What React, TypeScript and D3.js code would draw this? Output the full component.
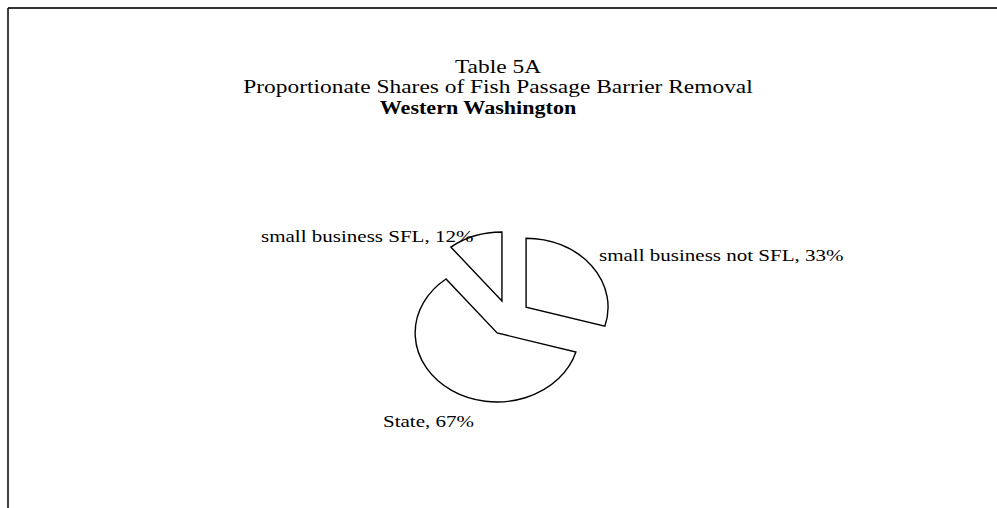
import React from "react";
import * as d3 from "d3";

const categories = ["small business not SFL", "State", "small business SFL"];
const values = [33, 67, 12];
const valueLabels = ["33%", "67%", "12%"];
const titleLines = ["Table 5A", "Proportionate Shares of Fish Passage Barrier Removal"];
const subtitle = "Western Washington";

const W = 997;
const H = 508;
const SX = 1.188; // horizontal stretch of the whole chart
const CX = 509;
const CY = 318;
const R = 69;
const EXPLODE = 18;
const FONT = "'Liberation Serif', 'Times New Roman', serif";

const labelPos = [
  { x: 599, y: 261 },
  { x: 383, y: 427 },
  { x: 261, y: 242 },
];

export default function App() {
  const pie = d3
    .pie<number>()
    .sort(null)
    .value((d) => d)
    .startAngle(0)
    .endAngle(2 * Math.PI);
  const arcs = pie(values);
  const arc = d3.arc<d3.PieArcDatum<number>>().innerRadius(0).outerRadius(R);

  return (
    <svg
      width={W}
      height={H}
      style={{ position: "absolute", left: 0, top: 0, background: "#fff" }}
    >
      <rect x={0} y={0} width={W} height={H} fill="#fff" />
      <line x1={8} y1={8} x2={W} y2={8} stroke="#333" strokeWidth={2} />
      <line x1={8} y1={8} x2={8} y2={H} stroke="#000" strokeWidth={1.5} />

      <g fontFamily={FONT} fill="#000">
        <text
          transform={`translate(498,73) scale(${SX},1)`}
          textAnchor="middle"
          fontSize={19.7}
        >
          {titleLines[0]}
        </text>
        <text
          transform={`translate(498,93) scale(${SX},1)`}
          textAnchor="middle"
          fontSize={19.7}
        >
          {titleLines[1]}
        </text>
        <text
          transform={`translate(478,114) scale(${SX},1)`}
          textAnchor="middle"
          fontSize={18.6}
          fontWeight="bold"
        >
          {subtitle}
        </text>
      </g>

      <g transform={`translate(${CX},${CY}) scale(${SX},1)`}>
        {arcs.map((a, i) => {
          const mid = (a.startAngle + a.endAngle) / 2;
          const dx = Math.sin(mid) * EXPLODE;
          const dy = -Math.cos(mid) * EXPLODE;
          return (
            <path
              key={categories[i]}
              d={arc(a) || ""}
              transform={`translate(${dx},${dy})`}
              fill="#fff"
              stroke="#000"
              strokeWidth={1.4}
              strokeLinejoin="miter"
              vectorEffect="non-scaling-stroke"
            />
          );
        })}
      </g>

      <g fontFamily={FONT} fill="#000" fontSize={17.7}>
        {categories.map((c, i) => (
          <text
            key={c}
            transform={`translate(${labelPos[i].x},${labelPos[i].y}) scale(${SX},1)`}
          >
            {`${c}, ${valueLabels[i]}`}
          </text>
        ))}
      </g>
    </svg>
  );
}
